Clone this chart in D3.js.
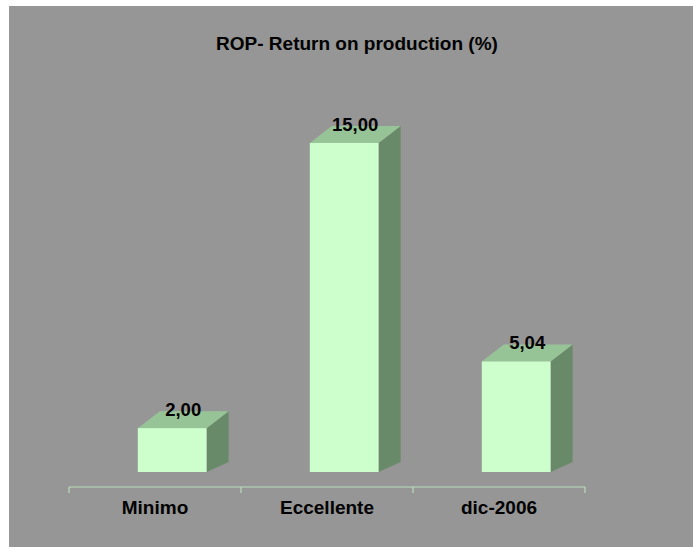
<!DOCTYPE html>
<html>
<head>
<meta charset="utf-8">
<script src="https://cdn.jsdelivr.net/npm/d3@7"></script>
<style>
  html, body { margin: 0; background: #969696; overflow: hidden; }
  svg { display: block; font-family: "Liberation Sans", Arial, sans-serif; }
</style>
</head>
<body>
<div id="chart"></div>
<script>
const categories = ["Minimo", "Eccellente", "dic-2006"];
const values = [2.00, 15.00, 5.04];
const valueLabels = ["2,00", "15,00", "5,04"];
const title = "ROP- Return on production (%)";

const width = 693;
const height = 547;
const depthX = 22;     // 3D depth offset, top edge
const depthY = 17;
const depthYBottom = 10; // perspective: bottom edge rises less

const svg = d3.select("#chart").append("svg")
    .attr("width", width)
    .attr("height", height);

// white margin on the left and top, grey chart area elsewhere
svg.append("rect")
    .attr("width", width)
    .attr("height", height)
    .attr("fill", "#fff");

svg.append("rect")
    .attr("x", 9)
    .attr("y", 6)
    .attr("width", width - 9)
    .attr("height", height)
    .attr("fill", "#969696");

svg.append("text")
    .attr("x", 357)
    .attr("y", 50)
    .attr("text-anchor", "middle")
    .attr("font-weight", "bold")
    .attr("font-size", 19)
    .attr("fill", "#000")
    .text(title);

const x = d3.scaleBand()
    .domain(categories)
    .range([69, 585]);

const y = d3.scaleLinear()
    .domain([0, 16])
    .range([472, 121]);

// bar front face: starts 0.4 band in, 0.4 band wide
const frontX = d => x(d) + x.bandwidth() * 0.4;
const frontW = x.bandwidth() * 0.4;

const data = categories.map((c, i) => ({ cat: c, value: values[i], label: valueLabels[i] }));

const bars = svg.append("g")
    .selectAll("g")
    .data(data)
    .join("g");

// right side
bars.append("path")
    .attr("fill", "#698a69")
    .attr("d", d => {
        const x1 = frontX(d.cat) + frontW;
        const yt = y(d.value), yb = y(0);
        return `M${x1},${yt}L${x1 + depthX},${yt - depthY}L${x1 + depthX},${yb - depthYBottom}L${x1},${yb}Z`;
    });

// top
bars.append("path")
    .attr("fill", "#97c497")
    .attr("d", d => {
        const x0 = frontX(d.cat), x1 = x0 + frontW;
        const yt = y(d.value);
        return `M${x0},${yt}L${x0 + depthX},${yt - depthY}L${x1 + depthX},${yt - depthY}L${x1},${yt}Z`;
    });

// front
bars.append("rect")
    .attr("fill", "#ccffcc")
    .attr("x", d => frontX(d.cat))
    .attr("y", d => y(d.value))
    .attr("width", frontW)
    .attr("height", d => y(0) - y(d.value));

bars.append("text")
    .attr("x", d => frontX(d.cat) + frontW / 2 + depthX / 2)
    .attr("y", d => y(d.value) - depthY + 5)
    .attr("text-anchor", "middle")
    .attr("font-weight", "bold")
    .attr("font-size", 18.5)
    .attr("fill", "#000")
    .text(d => d.label);

// category axis
const axisY = 487;
const axis = svg.append("g")
    .attr("transform", `translate(0,${axisY})`);

axis.append("line")
    .attr("x1", x.range()[0])
    .attr("x2", x.range()[1])
    .attr("stroke", "#b8dcb8")
    .attr("stroke-width", 1.2);

axis.selectAll(".tick-mark")
    .data(categories.map(c => x(c)).concat([x.range()[1]]))
    .join("line")
    .attr("class", "tick-mark")
    .attr("x1", d => d)
    .attr("x2", d => d)
    .attr("y1", 0)
    .attr("y2", 6)
    .attr("stroke", "#b8dcb8")
    .attr("stroke-width", 1.2);

axis.selectAll(".tick-label")
    .data(categories)
    .join("text")
    .attr("class", "tick-label")
    .attr("x", d => x(d) + x.bandwidth() / 2)
    .attr("y", 27)
    .attr("text-anchor", "middle")
    .attr("font-weight", "bold")
    .attr("font-size", 19)
    .attr("fill", "#000")
    .text(d => d);
</script>
</body>
</html>
